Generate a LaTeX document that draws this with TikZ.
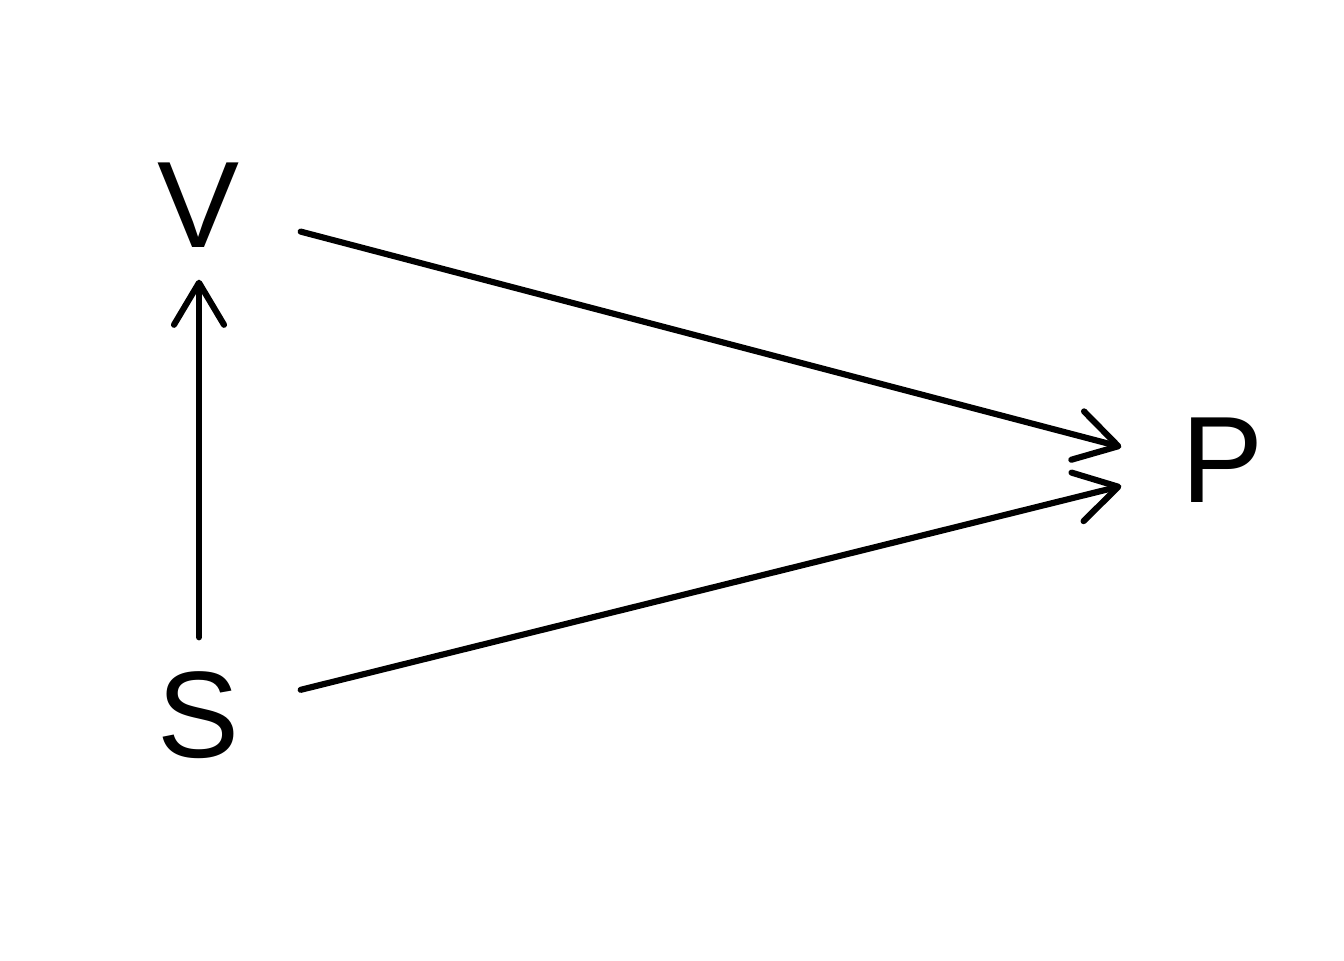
\documentclass[tikz,border=0pt]{standalone}
\usepackage{fontspec}
\setmainfont{Liberation Sans}
\usepackage{tikz}
\usetikzlibrary{arrows.meta}
\tikzset{lett/.style={rectangle,minimum width=2.02cm,minimum height=1.54cm,inner sep=0pt,font=\fontsize{35}{42}\selectfont}}
\tikzset{arr/.style={line width=1.75pt,line cap=round,-{Straight Barb[length=4.2mm,width=5mm,round]}}}

\begin{document}
\begin{tikzpicture}[>=stealth]
    \useasboundingbox (0,0) rectangle (13.44,9.6);
    \node[lett] (v)at (1.99,7.55) {V};
    \node[lett] (s)at (1.99,2.45) {S};
    \node[lett] (p)at (12.23,5.00) {P};

    \draw [arr] (s) to []node[]{} ([yshift=0.3mm]v.south);
    \draw [arr] (v) to []node[]{} ([yshift=1.3mm]p.west);
    \draw [arr] (s) to []node[]{} ([yshift=-2.6mm]p.west);
\end{tikzpicture}
\end{document}
